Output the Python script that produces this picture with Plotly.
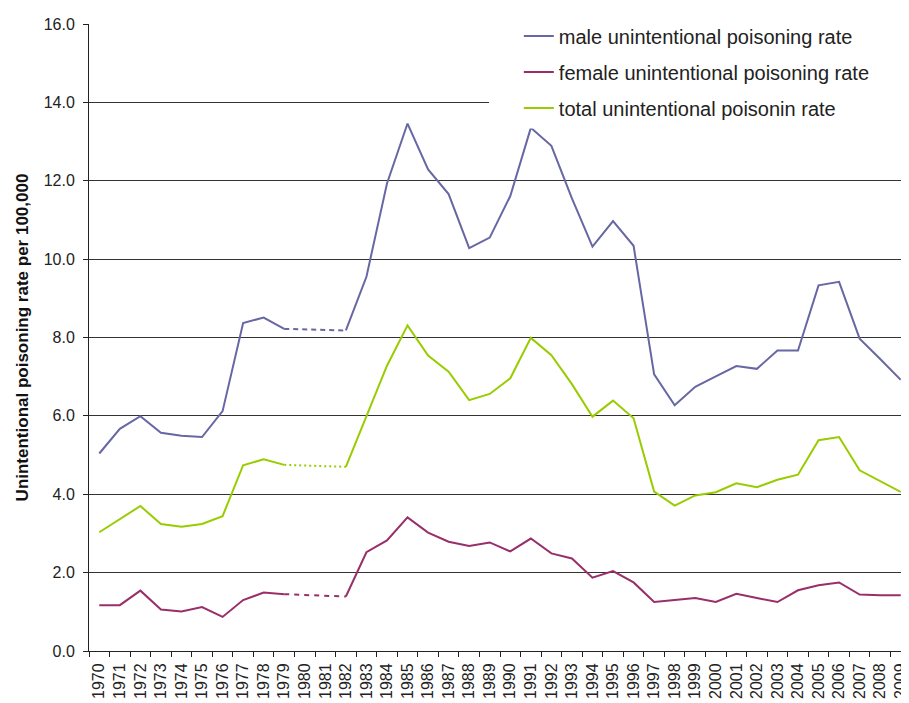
import plotly.graph_objects as go

years = [str(y) for y in range(1970, 2010)]

male = [5.04, 5.67, 5.99, 5.57, 5.49, 5.46, 6.12, 8.37, 8.51, 8.22,
        None, None, 8.18, 9.55, 11.93, 13.46, 12.29, 11.66, 10.28, 10.55,
        11.61, 13.35, 12.89, 11.55, 10.32, 10.97, 10.34, 7.06, 6.27, 6.74,
        7.01, 7.27, 7.20, 7.67, 7.67, 9.33, 9.42, 7.97, 7.45, 6.92]

female = [1.17, 1.17, 1.54, 1.06, 1.01, 1.12, 0.87, 1.30, 1.49, 1.45,
          None, None, 1.39, 2.52, 2.82, 3.41, 3.02, 2.79, 2.68, 2.77,
          2.54, 2.87, 2.49, 2.36, 1.87, 2.04, 1.75, 1.25, 1.30, 1.35,
          1.25, 1.46, 1.35, 1.25, 1.55, 1.68, 1.75, 1.44, 1.42, 1.42]

total = [3.03, 3.37, 3.70, 3.24, 3.17, 3.24, 3.44, 4.74, 4.89, 4.75,
         None, None, 4.70, 5.97, 7.28, 8.31, 7.54, 7.13, 6.40, 6.56,
         6.96, 7.99, 7.55, 6.81, 5.98, 6.39, 5.94, 4.07, 3.71, 3.97,
         4.05, 4.28, 4.18, 4.37, 4.50, 5.38, 5.46, 4.61, 4.33, 4.06]

names = ["male unintentional poisoning rate",
         "female unintentional poisoning rate",
         "total unintentional poisonin rate"]
colors = ["#6767A3", "#982F69", "#99CC00"]
dashes = ["5px,4px", "5px,5px", "2px,3px"]
series = [male, female, total]

# page body has an 8px margin: compensate so the plot lands where the original is
L, T, W, H = 81, 13, 820, 630

fig = go.Figure()
# gap segments (1979 -> 1982) drawn dashed, from the series' own values
gap_idx = [9, 12]
for s, c, d, n in zip(series, colors, dashes, names):
    fig.add_trace(go.Scatter(
        x=[years[i] for i in gap_idx], y=[s[i] for i in gap_idx],
        mode="lines", line=dict(color=c, width=2, dash=d),
        showlegend=False, hoverinfo="skip", legendgroup=n))
for s, c, n in zip(series, colors, names):
    fig.add_trace(go.Scatter(
        x=years, y=s, mode="lines", name=n, legendgroup=n,
        line=dict(color=c, width=2), connectgaps=False))

# white box behind legend (cuts gridlines like the original)
fig.add_shape(type="rect", xref="paper", yref="paper",
              x0=(484 - L) / W, x1=1.02, y0=(T + H - 118) / H, y1=1.05,
              fillcolor="white", line=dict(width=0), layer="above")

fig.update_layout(
    width=909, height=703,
    margin=dict(l=L, r=909 - L - W, t=T, b=703 - T - H),
    paper_bgcolor="white", plot_bgcolor="white",
    font=dict(family="Liberation Sans, Arial, sans-serif", color="#222"),
    legend=dict(x=(514 - L) / W, y=1.012, xanchor="left", yanchor="top",
                bgcolor="rgba(0,0,0,0)", font=dict(size=20, color="#222"),
                tracegroupgap=7, traceorder="grouped"),
    showlegend=True,
)
fig.update_xaxes(
    type="category", categoryorder="array", categoryarray=years,
    range=[-0.5, 39.11], tickangle=-90, tickfont=dict(size=16),
    ticks="outside", ticklen=5, tickcolor="#222", tickson="boundaries",
    ticklabelstandoff=5,
    showline=True, linecolor="#222", linewidth=1, showgrid=False,
)
fig.update_yaxes(
    range=[0, 16], dtick=2, tickformat=".1f", tickfont=dict(size=16),
    ticks="outside", ticklen=5, tickcolor="#222", ticklabelstandoff=5,
    showline=True, linecolor="#222", linewidth=1,
    showgrid=True, gridcolor="#333", gridwidth=1, zeroline=False,
    title=dict(text="<b>Unintentional poisoning rate per 100,000</b>",
               font=dict(size=17, color="#111"), standoff=10),
)

fig.write_html("out.html")
